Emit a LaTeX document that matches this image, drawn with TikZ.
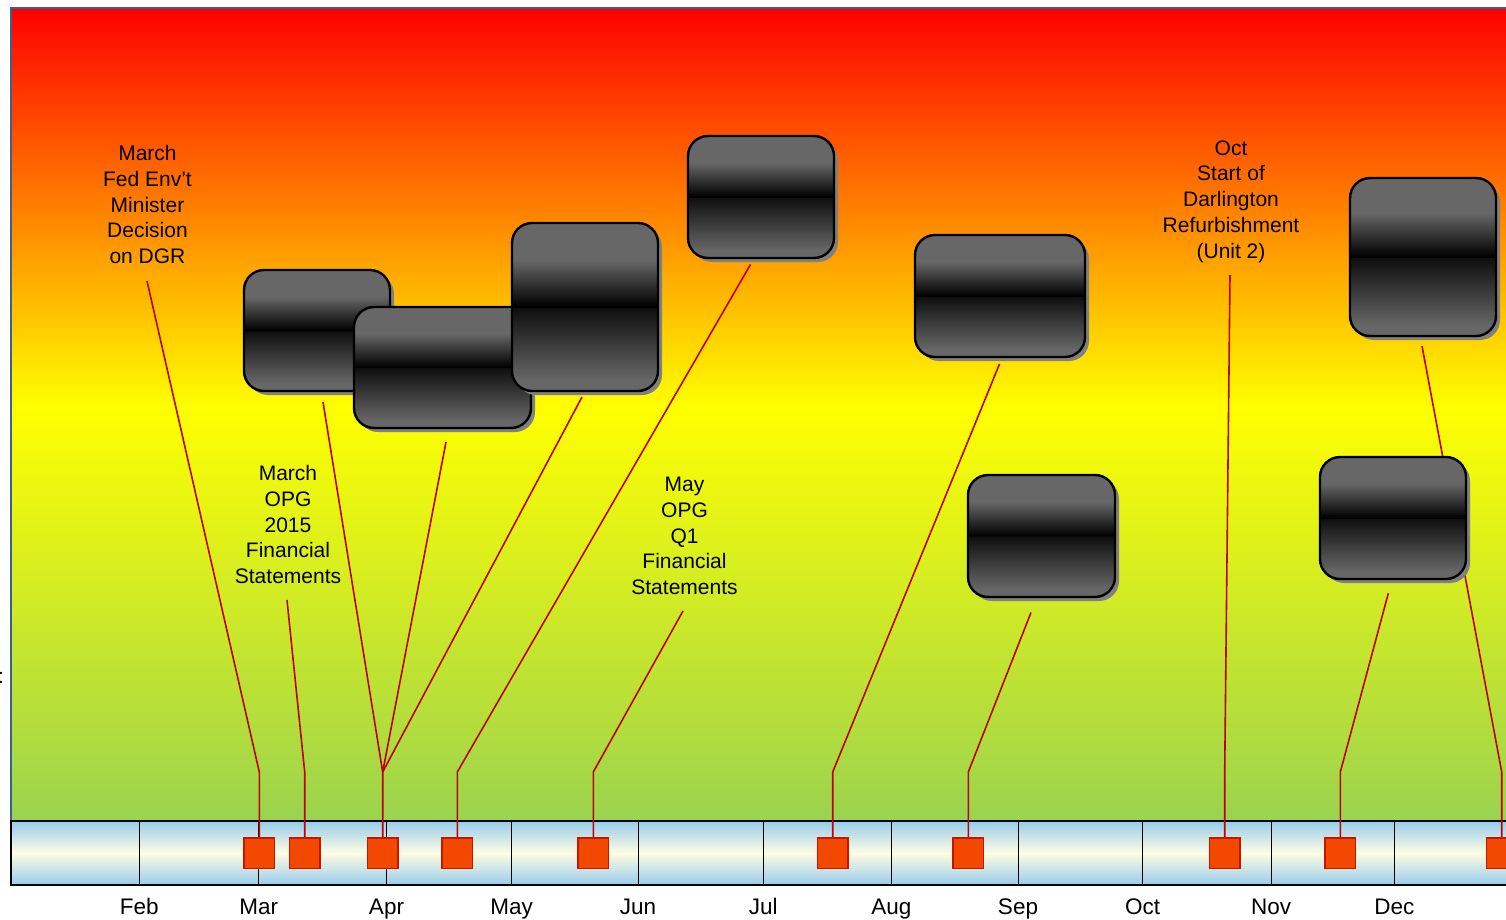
\documentclass[tikz,border=0pt]{standalone}
\usepackage{fontspec}
\setmainfont{Liberation Sans}
\usetikzlibrary{shadows}

% palette
\definecolor{skygreen}{RGB}{155,211,79}
\definecolor{skyyellow}{RGB}{255,255,0}
\definecolor{skyred}{RGB}{255,0,0}
\definecolor{frameblue}{RGB}{62,94,140}
\definecolor{barblue}{RGB}{150,204,236}
\definecolor{barcream}{RGB}{255,253,226}
\definecolor{btngray}{RGB}{103,103,103}
\definecolor{btnshade}{RGB}{14,14,14}
\definecolor{btnshadow}{RGB}{128,128,128}
\definecolor{mkfill}{RGB}{243,72,0}
\definecolor{mkedge}{RGB}{200,20,0}
\definecolor{connred}{RGB}{192,0,0}

% background sky, month band and glossy buttons
\pgfdeclareverticalshading{skyfade}{100bp}{color(0bp)=(skygreen); color(25bp)=(skygreen);
  color(50.5bp)=(skyyellow); color(75bp)=(skyred); color(100bp)=(skyred)}
\pgfdeclareverticalshading{bandfade}{100bp}{color(0bp)=(barblue); color(25bp)=(barblue);
  color(50bp)=(barcream); color(75bp)=(barblue); color(100bp)=(barblue)}
\pgfdeclareverticalshading{glossbtn}{100bp}{color(0bp)=(btngray); color(28bp)=(btngray);
  color(49.9bp)=(btnshade); color(50bp)=(black); color(64bp)=(btngray); color(100bp)=(btngray)}

\tikzset{
  btn/.style={rectangle, rounded corners=20pt, draw=black, line width=2.4pt,
    shading=glossbtn, inner sep=0pt,
    drop shadow={shadow xshift=4pt, shadow yshift=-4pt, fill=btnshadow, opacity=1}},
  mk/.style={rectangle, fill=mkfill, draw=mkedge, line width=1.5pt,
    minimum size=30.5pt, inner sep=0pt},
  conn/.style={draw=connred, line width=1.6pt, line join=miter},
  lbl/.style={align=center, inner sep=0pt, font=\fontsize{21}{25.7}\selectfont},
  month/.style={anchor=base, inner sep=0pt, font=\fontsize{22.5}{26}\selectfont},
  divider/.style={draw=black, line width=1.2pt}
}

\begin{document}
\begin{tikzpicture}[x=1pt, y={(0pt,-1pt)}]
\useasboundingbox (0,0) rectangle (1506,920);
\clip (0,0) rectangle (1506,920);
\fill[white] (0,0) rectangle (1506,920);

% sky panel
\shade[shading=skyfade] (11,8) rectangle (1520,821);
\draw[frameblue, line width=2.5pt] (11,832) -- (11,8) -- (1520,8);

% month band
\shade[shading=bandfade] (11,821) rectangle (1520,885);
\draw[divider, line width=1.5pt] (1520,821) -- (11,821) -- (11,885) -- (1520,885);
\foreach \x in {139.3,258.7,386.5,511.7,638.4,763.3,891.3,1018.4,1142.7,1271.4,1394.3}
  \draw[divider] (\x,821) -- (\x,885);

% month names
\node[month] (mFeb) at (139.3,914) {Feb};
\node[month] (mMar) at (258.7,914) {Mar};
\node[month] (mApr) at (386.5,914) {Apr};
\node[month] (mMay) at (511.7,914) {May};
\node[month] (mJun) at (638,914) {Jun};
\node[month] (mJul) at (763.3,914) {Jul};
\node[month] (mAug) at (891.3,914) {Aug};
\node[month] (mSep) at (1018,914) {Sep};
\node[month] (mOct) at (1142.7,914) {Oct};
\node[month] (mNov) at (1271,914) {Nov};
\node[month] (mDec) at (1394.3,914) {Dec};

\node[anchor=base west, inner sep=0pt, font=\fontsize{21}{25}\selectfont] (edgemark) at (-2,683.5) {:};

% event labels
\node[lbl] (lab1) at (147.5,204.5) {March\\Fed Env’t\\Minister\\Decision\\on DGR};
\node[lbl] (lab2) at (288,524.5) {March\\OPG\\2015\\Financial\\Statements};
\node[lbl] (lab3) at (684.5,536) {May\\OPG\\Q1\\Financial\\Statements};
\node[lbl] (lab4) at (1231,201.5) {Oct\\Start of\\Darlington\\Refurbishment\\(Unit 2)};

% event markers
\node[mk] (m1) at (259.3,853) {};
\node[mk] (m2) at (304.7,853) {};
\node[mk] (m3) at (382.7,853) {};
\node[mk] (m4) at (457.3,853) {};
\node[mk] (m5) at (593.3,853) {};
\node[mk] (m6) at (832.7,853) {};
\node[mk] (m7) at (968.3,853) {};
\node[mk] (m8) at (1224.7,853) {};
\node[mk] (m9) at (1340.3,853) {};
\node[mk] (m10) at (1501.7,853) {};

% bend points and leader ends
\coordinate (k1) at (259.3,772);
\coordinate (k2) at (304.7,772);
\coordinate (k3) at (382.7,772);
\coordinate (k4) at (457.3,772);
\coordinate (k5) at (593.3,772);
\coordinate (k6) at (832.7,772);
\coordinate (k7) at (968.3,772);
\coordinate (k8) at (1224.7,772);
\coordinate (k9) at (1340.3,772);
\coordinate (k10) at (1501.7,772);
\coordinate (e1) at (147,281);
\coordinate (e2) at (287,600);
\coordinate (e3a) at (323,402);
\coordinate (e3b) at (446,442);
\coordinate (e3c) at (582,397);
\coordinate (e4) at (750.5,264.5);
\coordinate (e5) at (683,611);
\coordinate (e6) at (999.5,364);
\coordinate (e7) at (1031,612.5);
\coordinate (e8) at (1230,275);
\coordinate (e9) at (1388.3,593.3);
\coordinate (e10) at (1422,346);

% leaders
\draw[conn] (m1.north) -- (k1) -- (e1);
\draw[conn] (m2.north) -- (k2) -- (e2);
\draw[conn] (m3.north) -- (k3) -- (e3a);
\draw[conn] (k3) -- (e3b);
\draw[conn] (k3) -- (e3c);
\draw[conn] (m4.north) -- (k4) -- (e4);
\draw[conn] (m5.north) -- (k5) -- (e5);
\draw[conn] (m6.north) -- (k6) -- (e6);
\draw[conn] (m7.north) -- (k7) -- (e7);
\draw[conn] (m8.north) -- (k8) -- (e8);
\draw[conn] (m9.north) -- (k9) -- (e9);
\draw[conn] (m10.north) -- (k10) -- (e10);

% redraw markers above the leader ends
\foreach \n in {1,...,10} \node[mk] at (m\n) {};

% glossy buttons
\node[btn, minimum width=146pt, minimum height=121pt] (box1) at (317,330.5) {};
\node[btn, minimum width=177pt, minimum height=121pt] (box2) at (442.5,367.5) {};
\node[btn, minimum width=146pt, minimum height=168pt] (box3) at (585,307) {};
\node[btn, minimum width=146pt, minimum height=122pt] (box4) at (761,197) {};
\node[btn, minimum width=170pt, minimum height=122pt] (box5) at (1000,296) {};
\node[btn, minimum width=147pt, minimum height=122pt] (box6) at (1041.5,536) {};
\node[btn, minimum width=146pt, minimum height=158pt] (box7) at (1423,257) {};
\node[btn, minimum width=146pt, minimum height=122pt] (box8) at (1393,518) {};
\end{tikzpicture}
\end{document}
